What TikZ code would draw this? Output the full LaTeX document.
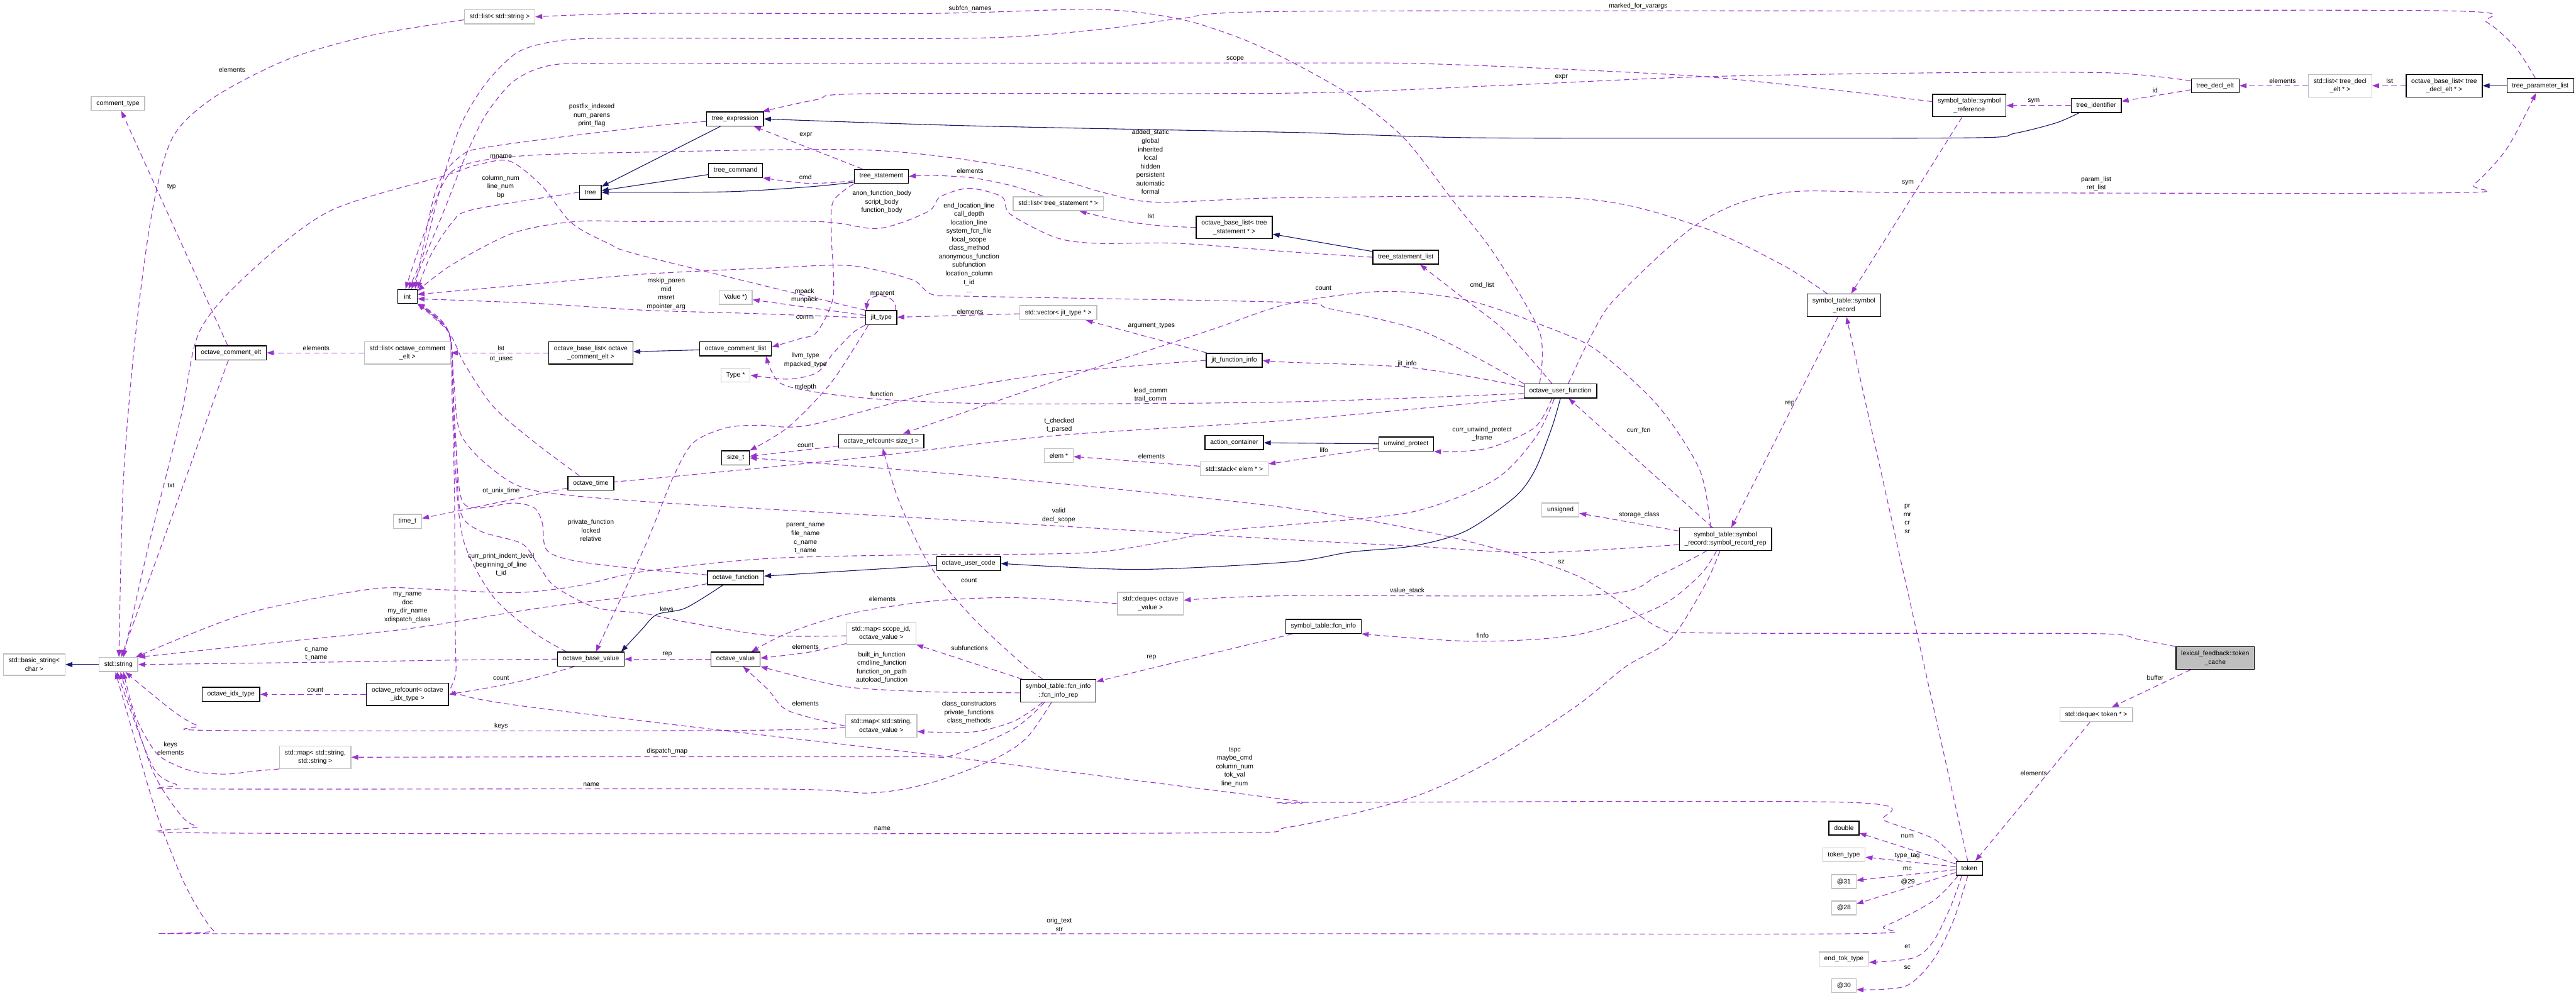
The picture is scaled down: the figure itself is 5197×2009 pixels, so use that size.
\documentclass[tikz,border=0pt]{standalone}
\usepackage{fontspec}
\setmainfont{Liberation Sans}
\usetikzlibrary{arrows.meta, calc, backgrounds}

\definecolor{usecol}{HTML}{9A32CD}
\definecolor{inhcol}{HTML}{191970}
\definecolor{extcol}{HTML}{BFBFBF}

\tikzset{
  cls/.style={draw=black, line width=1.8pt, fill=white, inner xsep=10.5pt, inner ysep=8pt,
    minimum height=28pt, minimum width=39pt, align=center, font=\fontsize{13.2}{17.2}\selectfont},
  ext/.style={cls, draw=extcol},
  focus/.style={cls, fill=extcol},
  lbl/.style={inner sep=0pt, align=center, font=\fontsize{13.2}{17.2}\selectfont},
  usage/.style={draw=usecol, line width=1.4pt, dash pattern=on 11pt off 7pt,
    -{Triangle[length=14pt, width=10pt]}},
  inherit/.style={draw=inhcol, line width=1.4pt, -{Triangle[length=14pt, width=10pt]}}
}

\begin{document}
\begin{tikzpicture}[x=1pt, y=-1pt]
  \useasboundingbox (0,0) rectangle (5197,2009);

  % Classes, top row
  \node[ext] (strlist) at (1008,34) {std::list< std::string >};
  \node[ext] (commenttype) at (238,209) {comment\_type};
  \node[cls] (int) at (822,598) {int};
  \node[cls] (tree) at (1191,388) {tree};
  \node[cls] (treeexpr) at (1483,240) {tree\_expression};
  \node[cls] (treecmd) at (1484,344) {tree\_command};
  \node[cls] (treestmt) at (1778,356) {tree\_statement};
  \node[ext] (stmtlist) at (2135,411) {std::list< tree\_statement * >};
  \node[cls] (stmtbase) at (2490,459) {octave\_base\_list< tree\\\_statement * >};
  \node[ext] (value) at (1484,600) {Value *)};
  \node[cls] (jittype) at (1778,641) {jit\_type};
  \node[ext] (jitvec) at (2135,631) {std::vector< jit\_type * >};
  \node[cls] (stmtlistnode) at (2836,519) {tree\_statement\_list};
  \node[cls] (symrec) at (3720,616) {symbol\_table::symbol\\\_record};
  \node[cls] (symref) at (3973,213) {symbol\_table::symbol\\\_reference};
  \node[cls] (treeid) at (4229,213) {tree\_identifier};
  \node[cls] (declelt) at (4469,173) {tree\_decl\_elt};
  \node[ext] (decllist) at (4721,173) {std::list< tree\_decl\\\_elt * >};
  \node[cls] (declbase) at (4931,173) {octave\_base\_list< tree\\\_decl\_elt * >};
  \node[cls] (paramlist) at (5125,173) {tree\_parameter\_list};

  % Classes, middle
  \node[cls] (commentelt) at (466,712) {octave\_comment\_elt};
  \node[ext] (commentstdlist) at (822,712) {std::list< octave\_comment\\\_elt >};
  \node[cls] (commentbase) at (1192,712) {octave\_base\_list< octave\\\_comment\_elt >};
  \node[cls] (octtime) at (1192,975) {octave\_time};
  \node[ext] (timet) at (822,1052) {time\_t};
  \node[cls] (basevalue) at (1192,1330) {octave\_base\_value};
  \node[ext] (basicstring) at (69,1341) {std::basic\_string<\\char >};
  \node[ext] (string) at (239,1341) {std::string};
  \node[cls] (commentlist) at (1484,704) {octave\_comment\_list};
  \node[ext] (type) at (1484,757) {Type *};
  \node[cls] (jitinfo) at (2490,727) {jit\_function\_info};
  \node[cls] (sizet) at (1484,924) {size\_t};
  \node[cls] (refsize) at (1778,890) {octave\_refcount< size\_t >};
  \node[cls] (actcont) at (2490,893) {action\_container};
  \node[ext] (elem) at (2136,919) {elem *};
  \node[ext] (elemstack) at (2490,946) {std::stack< elem * >};
  \node[cls] (usercode) at (1954,1137) {octave\_user\_code};
  \node[cls] (function) at (1484,1166) {octave\_function};
  \node[ext] (valdeque) at (2321,1218) {std::deque< octave\\\_value >};
  \node[ext] (scopemap) at (1778,1278) {std::map< scope\_id,\\octave\_value >};
  \node[cls] (octvalue) at (1484,1330) {octave\_value};
  \node[cls] (userfcn) at (3148,789) {octave\_user\_function};
  \node[cls] (unwind) at (2837,896) {unwind\_protect};
  \node[ext] (unsigned) at (3148,1029) {unsigned};
  \node[cls] (recrep) at (3481,1088) {symbol\_table::symbol\\\_record::symbol\_record\_rep};
  \node[cls] (fcninfo) at (2670,1264) {symbol\_table::fcn\_info};
  \node[focus] (tokcache) at (4469,1328) {lexical\_feedback::token\\\_cache};

  % Classes, bottom
  \node[cls] (idxtype) at (466,1401) {octave\_idx\_type};
  \node[cls] (refidx) at (822,1401) {octave\_refcount< octave\\\_idx\_type >};
  \node[ext] (strmap) at (636,1528) {std::map< std::string,\\std::string >};
  \node[cls] (fcnrep) at (2135,1394) {symbol\_table::fcn\_info\\::fcn\_info\_rep};
  \node[ext] (valmap) at (1778,1465) {std::map< std::string,\\octave\_value >};
  \node[cls] (double) at (3720,1671) {double};
  \node[ext] (toktype) at (3720,1725) {token\_type};
  \node[ext] (at31) at (3720,1779) {@31};
  \node[ext] (at28) at (3720,1832) {@28};
  \node[ext] (endtok) at (3720,1935) {end\_tok\_type};
  \node[ext] (at30) at (3720,1989) {@30};
  \node[ext] (tokdeque) at (4229,1442) {std::deque< token * >};
  \node[cls] (token) at (3973,1752) {token};

  \begin{pgfonlayer}{background}
    % Inheritance
    \foreach \a/\b in {treeexpr/tree, treecmd/tree, stmtlistnode/stmtbase, commentlist/commentbase,
        paramlist/declbase, usercode/function, unwind/actcont, string/basicstring}
      \draw[inherit] (\a) -- (\b);
    \draw[inherit] plot[smooth] coordinates {($(treestmt.south west)+(0,-3)$) (1632,377) (1466,387) (tree.east)};
    \draw[inherit] plot[smooth] coordinates {($(treeid.south)+(-35,0)$) (4148,248) (4065,269) (3983,278)
      (3400,279) (2973,278) (2724,271) (2600,267) (1963,254) (treeexpr.east)};
    \draw[inherit] plot[smooth] coordinates {(userfcn.south) (3131,862) (3097,948) (3056,1003) (2956,1072)
      (2849,1102) (2724,1114) (2600,1134) (2295,1149) (usercode.east)};
    \draw[inherit] plot[smooth] coordinates {($(function.south)+(-26,0)$) (1383,1227) (1325,1240) (1295,1270)
      ($(basevalue.north east)+(-7,0)$)};

    % Straight members
    \foreach \a/\b in {commentelt/commenttype, commentelt/string, treestmt/treeexpr, symrec/recrep,
        symref/symrec, token/symrec, recrep/userfcn, recrep/unsigned, fcninfo/fcnrep, fcnrep/scopemap,
        octvalue/basevalue, refidx/idxtype, octtime/timet, jittype/value, jitvec/jittype, jitinfo/jitvec,
        unwind/elemstack, elemstack/elem, refsize/sizet, tokcache/tokdeque, tokdeque/token,
        commentstdlist/commentelt, commentbase/commentstdlist, treeid/symref, declelt/treeid,
        decllist/declelt, declbase/decllist}
      \draw[usage] (\a) -- (\b);
    \foreach \t in {double, toktype, at31, at28}
      \draw[usage] (token) -- (\t);

    % Members drawn along routes, top part
    \draw[usage] plot[smooth] coordinates {($(paramlist.north)+(-10,0)$) (5075,96) (5017,45) (4942,22) (3900,22)
      (2600,23) (2378,38) (2212,60) (1963,77) (1300,77) (1161,79) (1086,90) (1036,111) (978,171) (928,256)
      (887,385) (854,513) ($(int.north)+(2,0)$)};
    \draw[usage] plot[smooth] coordinates {($(userfcn.north)+(-42,0)$) (3106,670) (3015,513) (2932,406) (2832,278)
      (2724,192) (2600,122) (2502,77) (2378,38) (2212,19) (1880,27) (1300,27) (strlist.east)};
    \draw[usage] plot[smooth] coordinates {($(symref.west)+(0,-8)$) (3678,179) (3429,154) (3097,137) (2849,128)
      (2600,127) (1300,128) (1144,128) (1078,141) (1028,171) (978,235) (937,320) (895,427) ($(int.north)+(8,0)$)};
    \draw[usage] plot[smooth] coordinates {($(declelt.west)+(0,-10)$) (4255,147) (3900,147) (3429,155) (3015,173)
      (2600,188) (1756,189) (1648,201) ($(treeexpr.north east)+(-3,0)$)};
    \draw[usage] plot[smooth] coordinates {($(strlist.west)+(0,6)$) (746,72) (580,120) (431,197) (348,278)
      (307,427) (274,670) (249,969) ($(string.north)+(1,0)$)};
    \draw[usage] plot[smooth] coordinates {($(treeexpr.west)+(0,5)$) (1300,256) (995,295) (928,316) (879,385)
      ($(int.north east)+(-5,0)$)};
    \draw[usage] plot[smooth] coordinates {(tree.west) (954,423) (912,449) (870,513) (int.north east)};
    \draw[usage] plot[smooth] coordinates {($(symrec.north west)+(41,0)$) (3595,534) (3429,457) (3180,400)
      (2600,399) (2336,408) (2228,389) (2046,338) (1756,303) (1300,307) (1036,316) (912,346) (860,460)
      ($(int.north)+(-4,0)$)};
    \draw[usage] plot[smooth] coordinates {(jittype.north west) (1300,517) (1227,491) (1152,449) (1094,376)
      (1028,325) (962,333) (895,355) (663,427) (497,556) (402,670) (365,841) (300,1100) ($(string.north)+(10,0)$)};
    \draw[usage] plot[smooth] coordinates {(userfcn.north west) (2874,670) (2683,623) (2600,610) (1963,598)
      (1880,594) (1839,564) (1715,536) (1549,541) (1300,553) (1078,573) ($(int.east)+(0,-4)$)};
    \draw[usage] plot[smooth] coordinates {(stmtlistnode.west) (2600,508) (2378,491) (2212,491) (2129,479)
      (2038,432) (2021,397) (1955,380) (1897,397) (1872,427) (1772,461) (1648,447) (1300,447) (1161,447)
      (1036,470) (912,534) ($(int.north east)+(0,4)$)};
    \draw[usage] plot[smooth] coordinates {(jittype.west) (1500,632) (1300,626) (1078,612) ($(int.east)+(0,5)$)};
    \draw[usage] plot[smooth] coordinates {(treestmt.south west) (1681,406) (1677,470) (1681,598) (1648,670)
      (1615,683) ($(commentlist.east)+(0,-4)$)};
    \draw[usage] plot[smooth] coordinates {($(treestmt.west)+(0,9)$) (1632,370) (treecmd.south east)};
    \draw[usage] plot[smooth] coordinates {($(stmtlist.north west)+(61,0)$) (2046,376) (1963,359) (1880,354)
      (treestmt.east)};
    \draw[usage] plot[smooth] coordinates {(stmtbase.west) (2336,455) (2254,444) ($(stmtlist.south east)+(-49,0)$)};

    % jit and octave_user_function
    \draw[usage] plot[smooth] coordinates {(jittype.south west) (1720,672) (1681,713) (1648,752) (1590,765)
      (type.east)};
    \draw[usage] plot[smooth] coordinates {($(jittype.south west)+(6,0)$) (1731,690) (1673,777) (1590,862)
      (sizet.north east)};
    \draw[usage] ($(jittype.north east)+(-4,0)$) .. controls +(6,-36) and +(4,-36) .. ($(jittype.north west)+(2,0)$);
    \draw[usage] plot[smooth] coordinates {($(userfcn.north west)+(0,6)$) (2849,742) (2600,731) (jitinfo.east)};
    \draw[usage] plot[smooth] coordinates {(jitinfo.west) (2129,753) (1880,794) (1632,858) (1532,858) (1466,863)
      (1399,893) (1358,963) (1300,1105) ($(basevalue.north)+(10,0)$)};
    \draw[usage] plot[smooth] coordinates {($(userfcn.west)+(0,5)$) (2600,811) (2046,815) (1797,807) (1665,794)
      (1574,773) ($(commentlist.south east)+(-12,0)$)};
    \draw[usage] plot[smooth] coordinates {(userfcn.south west) (2600,848) (2129,879) (1715,926) (1300,967)
      ($(octtime.east)+(0,-4)$)};
    \draw[usage] plot[smooth] coordinates {($(userfcn.north)+(-17,0)$) (3039,670) (2950,600)
      ($(stmtlistnode.south)+(29,0)$)};
    \draw[usage] plot[smooth] coordinates {($(userfcn.north)+(16,0)$) (3214,670) (3263,598) (3429,449) (3595,389)
      (3900,389) (4942,389) (4991,372) (5058,299) ($(paramlist.south)+(-9,0)$)};
    \draw[usage] plot[smooth] coordinates {($(userfcn.south)+(-17,0)$) (3097,862) (3014,901) (2948,911)
      (unwind.south east)};
    \draw[usage] plot[smooth] coordinates {($(userfcn.south)+(-12,0)$) (3097,884) (3014,969) (2849,1033)
      (2600,1059) (2461,1072) (2212,1114) (1880,1119) (1549,1127) (1300,1153) (1161,1183) (1036,1196)
      (871,1189) (746,1189) (497,1238) ($(string.north east)+(-5,0)$)};

    % symbol_record_rep
    \draw[usage] plot[smooth] coordinates {($(recrep.north west)+(64,0)$) (3429,948) (3346,820) (3230,713)
      (3147,670) (2965,607) (2791,588) (2600,613) (2436,668) (2120,772) ($(refsize.north)+(44,0)$)};
    \draw[usage] plot[smooth] coordinates {($(recrep.west)+(0,11)$) (3097,1115) (2849,1102) (2600,1089)
      (2129,1061) (1715,1037) (1300,1012) (1078,990) (995,948) (929,875) (915,760) (905,670) (int.south east)};
    \draw[usage] plot[smooth] coordinates {($(recrep.south west)+(56,0)$) (3346,1161) (3222,1200) (2600,1202)
      ($(valdeque.east)+(0,-7)$)};
    \draw[usage] plot[smooth] coordinates {($(recrep.south west)+(76,0)$) (3429,1161) (3346,1225) (3180,1281)
      (2973,1294) (fcninfo.south east)};
    \draw[usage] plot[smooth] coordinates {($(recrep.south)+(-11,0)$) (3440,1180) (3370,1290) (3280,1345)
      (3180,1425) (3014,1532) (2849,1609) (2600,1669) (2378,1681) (448,1681) (398,1668) (365,1645) (307,1553)
      ($(string.south)+(4,0)$)};

    % fcn_info_rep and maps
    \draw[usage] plot[smooth] coordinates {($(fcnrep.west)+(0,4)$) (1880,1396) (1715,1387) (1615,1366)
      (octvalue.south east)};
    \draw[usage] plot[smooth] coordinates {($(fcnrep.south west)+(45,0)$) (2046,1455) (1963,1477)
      ($(valmap.east)+(0,11)$)};
    \draw[usage] plot[smooth] coordinates {($(fcnrep.south west)+(49,0)$) (2046,1470) (1922,1524) (1839,1527)
      (1300,1527) (strmap.east)};
    \draw[usage] plot[smooth] coordinates {($(fcnrep.south)+(-14,0)$) (2071,1489) (2005,1532) (1880,1579)
      (1756,1600) (1549,1592) (398,1592) (356,1583) (307,1545) ($(string.south)+(-3,0)$)};
    \draw[usage] plot[smooth] coordinates {($(fcnrep.north)+(-31,0)$) (2063,1340) (1963,1247) (1875,1140)
      (1814,1012) ($(refsize.south)+(3,0)$)};
    \draw[usage] plot[smooth] coordinates {(valmap.west) (1590,1434) (1549,1391) ($(octvalue.south)+(15,0)$)};
    \draw[usage] plot[smooth] coordinates {($(valmap.west)+(0,3)$) (1466,1474) (448,1474) (398,1464) (348,1434)
      ($(string.south)+(14,0)$)};
    \draw[usage] plot[smooth] coordinates {(strmap.south west) (514,1556) (456,1562) (398,1558) (357,1545)
      (315,1519) (274,1447) ($(string.south)+(10,0)$)};
    \draw[usage] plot[smooth] coordinates {($(scopemap.south west)+(0,-3)$) (1632,1316) ($(octvalue.east)+(0,-2)$)};
    \draw[usage] plot[smooth] coordinates {($(scopemap.west)+(0,5)$) (1549,1282) (1383,1255) (1300,1238)
      (1202,1226) (1119,1183) (1086,1140) (1053,1097) (970,1072) (929,1033) (920,900) (912,760) (905,670)
      (int.south east)};
    \draw[usage] plot[smooth] coordinates {(valdeque.west) (2046,1206) (1880,1213) (1715,1238) (1590,1277)
      ($(octvalue.north)+(32,0)$)};

    % octave_base_value, octave_function, octave_time
    \draw[usage] plot[smooth] coordinates {($(basevalue.south west)+(35,0)$) (1078,1368) (995,1386) (refidx.east)};
    \draw[usage] plot[smooth] coordinates {($(basevalue.north west)+(19,0)$) (1078,1277) (995,1204) (937,1097)
      (920,969) (914,800) (905,670) (int.south east)};
    \draw[usage] plot[smooth] coordinates {(basevalue.west) (912,1332) (663,1336) (string.east)};
    \draw[usage] plot[smooth] coordinates {($(octtime.north west)+(24,0)$) (1078,892) (995,820) (937,734)
      (905,670) (int.south east)};
    \draw[usage] plot[smooth] coordinates {($(function.west)+(0,-6)$) (1300,1149) (1161,1132) (1103,1110)
      (1094,1055) (1078,1025) (1036,1015) (960,1025) (929,1000) (917,850) (905,670) (int.south east)};
    \draw[usage] plot[smooth] coordinates {($(function.south west)+(0,-3)$) (1300,1200) (1094,1226) (829,1268)
      (580,1294) (string.north east)};

    % token_cache and token
    \draw[usage] plot[smooth] coordinates {(tokcache.north west) (4314,1290) (4247,1279) (3900,1278) (3429,1277)
      (3346,1266) (3180,1161) (2932,1085) (2600,1025) (2046,967) (sizet.east)};
    \draw[usage] plot[smooth] coordinates {($(token.south)+(-15,0)$) (3935,1830) (3900,1900) (3860,1933)
      ($(endtok.east)+(0,7)$)};
    \draw[usage] plot[smooth] coordinates {($(token.south)+(-3,0)$) (3940,1860) (3900,1937) (3844,1990)
      ($(at30.east)+(0,8)$)};
    \draw[usage] plot[smooth] coordinates {($(token.south west)+(5,0)$) (3900,1818) (3802,1869) (3736,1884)
      (2600,1884) (456,1884) (431,1878) (398,1831) (365,1767) (315,1639) (265,1468) ($(string.south)+(-6,0)$)};
    \draw[usage] plot[smooth] coordinates {($(token.north west)+(5,0)$) (3900,1692) (3802,1656) (3728,1619)
      (2634,1619) (2600,1614) (1880,1523) (1300,1455) (937,1404) (920,1340) (917,1000) (912,800) (905,670)
      (int.south east)};
  \end{pgfonlayer}

  % Member labels
  \node[lbl] (lvarargs) at (3305,13) {marked\_for\_varargs};
  \node[lbl] (lsubfcn) at (1957,17) {subfcn\_names};
  \node[lbl] (lscope) at (2492,119) {scope};
  \node[lbl] (lexprdecl) at (3150,156) {expr};
  \node[lbl] (lelemstr) at (468,140) {elements};
  \node[lbl] (ltyp) at (346,377) {typ};
  \node[lbl] (ltxt) at (345,980) {txt};
  \node[lbl] (lpostfix) at (1194,233) {postfix\_indexed\\num\_parens\\print\_flag};
  \node[lbl] (lcolumn) at (1010,377) {column\_num\\line\_num\\bp};
  \node[lbl] (lstatic) at (2321,327) {added\_static\\global\\inherited\\local\\hidden\\persistent\\automatic\\formal};
  \node[lbl] (lmname) at (1011,316) {mname};
  \node[lbl] (lendloc) at (1955,500) {end\_location\_line\\call\_depth\\location\_line\\system\_fcn\_file\\local\_scope\\class\_method\\anonymous\_function\\subfunction\\location\_column\\t\_id\\...};
  \node[lbl] (lanon) at (1779,408) {anon\_function\_body\\script\_body\\function\_body};
  \node[lbl] (lmskip) at (1344,593) {mskip\_paren\\mid\\msret\\mpointer\_arg};
  \node[lbl] (lcomm) at (1624,640) {comm};
  \node[lbl] (lexprstmt) at (1626,272) {expr};
  \node[lbl] (lcmd) at (1625,358) {cmd};
  \node[lbl] (lelemstmt) at (1957,345) {elements};
  \node[lbl] (llststmt) at (2322,436) {lst};
  \node[lbl] (lreprec) at (3611,814) {rep};
  \node[lbl] (lsymrec) at (3849,369) {sym};
  \node[lbl] (lpr) at (3848,1047) {pr\\mr\\cr\\sr};
  \node[lbl] (lcurrfcn) at (3306,869) {curr\_fcn};
  \node[lbl] (lstorage) at (3307,1039) {storage\_class};
  \node[lbl] (lvalstack) at (2839,1192) {value\_stack};
  \node[lbl] (lfinfo) at (2991,1283) {finfo};
  \node[lbl] (lnamerec) at (1780,1672) {name};
  \node[lbl] (lrepfcn) at (2323,1327) {rep};
  \node[lbl] (lsubfun) at (1956,1308) {subfunctions};
  \node[lbl] (lbuiltin) at (1779,1347) {built\_in\_function\\cmdline\_function\\function\_on\_path\\autoload\_function};
  \node[lbl] (lclasscons) at (1955,1438) {class\_constructors\\private\_functions\\class\_methods};
  \node[lbl] (ldispatch) at (1346,1516) {dispatch\_map};
  \node[lbl] (lnamefcn) at (1193,1583) {name};
  \node[lbl] (lelemvmap) at (1625,1420) {elements};
  \node[lbl] (lkeysvmap) at (1011,1465) {keys};
  \node[lbl] (lkeysmap) at (344,1510) {keys\\elements};
  \node[lbl] (lelemscope) at (1625,1305) {elements};
  \node[lbl] (lkeysscope) at (1345,1231) {keys};
  \node[lbl] (lrepval) at (1346,1321) {rep};
  \node[lbl] (lcountbase) at (1011,1368) {count};
  \node[lbl] (lcountidx) at (636,1392) {count};
  \node[lbl] (lindent) at (1011,1140) {curr\_print\_indent\_level\\beginning\_of\_line\\t\_id};
  \node[lbl] (lusec) at (1011,725) {ot\_usec};
  \node[lbl] (lunix) at (1011,991) {ot\_unix\_time};
  \node[lbl] (lchecked) at (2137,858) {t\_checked\\t\_parsed};
  \node[lbl] (lleadcomm) at (2321,797) {lead\_comm\\trail\_comm};
  \node[lbl] (lfunction) at (1779,795) {function};
  \node[lbl] (lllvm) at (1625,727) {llvm\_type\\mpacked\_type};
  \node[lbl] (lmdepth) at (1625,781) {mdepth};
  \node[lbl] (lmpack) at (1623,597) {mpack\\munpack};
  \node[lbl] (lmparent) at (1780,593) {mparent};
  \node[lbl] (lelemvec) at (1957,629) {elements};
  \node[lbl] (largtypes) at (2323,657) {argument\_types};
  \node[lbl] (ljitinfo) at (2839,735) {jit\_info};
  \node[lbl] (lcountrec) at (2670,581) {count};
  \node[lbl] (lcmdlist) at (2990,576) {cmd\_list};
  \node[lbl] (lparam) at (4229,371) {param\_list\\ret\_list};
  \node[lbl] (lunwind) at (2990,876) {curr\_unwind\_protect\\\_frame};
  \node[lbl] (llifo) at (2671,908) {lifo};
  \node[lbl] (lelemstack) at (2323,921) {elements};
  \node[lbl] (lcountsize) at (1625,899) {count};
  \node[lbl] (lsz) at (3150,1134) {sz};
  \node[lbl] (lbuffer) at (4348,1368) {buffer};
  \node[lbl] (lelemtok) at (4103,1560) {elements};
  \node[lbl] (lnum) at (3848,1687) {num};
  \node[lbl] (ltypetag) at (3848,1727) {type\_tag};
  \node[lbl] (lmc) at (3848,1753) {mc};
  \node[lbl] (l29) at (3849,1780) {@29};
  \node[lbl] (let) at (3848,1910) {et};
  \node[lbl] (lsc) at (3848,1952) {sc};
  \node[lbl] (lorig) at (2137,1866) {orig\_text\\str};
  \node[lbl] (ltspc) at (2491,1548) {tspc\\maybe\_cmd\\column\_num\\tok\_val\\line\_num};
  \node[lbl] (lvalid) at (2136,1040) {valid\\decl\_scope};
  \node[lbl] (lparent) at (1625,1086) {parent\_name\\file\_name\\c\_name\\t\_name};
  \node[lbl] (lprivate) at (1192,1070) {private\_function\\locked\\relative};
  \node[lbl] (lmyname) at (822,1226) {my\_name\\doc\\my\_dir\_name\\xdispatch\_class};
  \node[lbl] (lcname) at (638,1320) {c\_name\\t\_name};
  \node[lbl] (lelemcomm) at (638,703) {elements};
  \node[lbl] (llstcomm) at (1011,703) {lst};
  \node[lbl] (lelemdeque) at (1780,1209) {elements};
  \node[lbl] (lcountfcn) at (1955,1171) {count};
  \node[lbl] (lsymid) at (4103,204) {sym};
  \node[lbl] (lid) at (4348,182) {id};
  \node[lbl] (lelemdecl) at (4605,164) {elements};
  \node[lbl] (llstdecl) at (4821,164) {lst};
\end{tikzpicture}
\end{document}
